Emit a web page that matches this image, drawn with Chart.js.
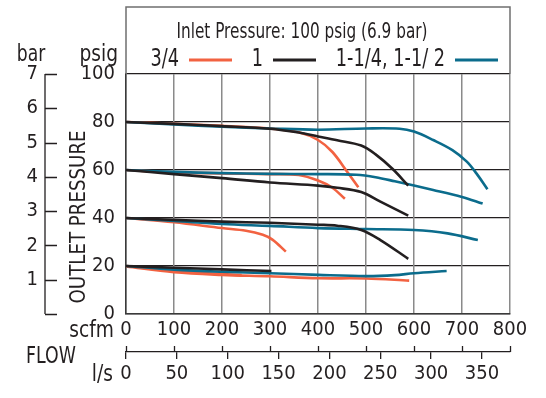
<!DOCTYPE html>
<html>
<head>
<meta charset="utf-8">
<script src="https://cdn.jsdelivr.net/npm/chart.js@4.4.0/dist/chart.umd.min.js"></script>
<style>
  html, body { margin: 0; padding: 0; background: #fff; }
  #wrap { width: 546px; height: 398px; }
</style>
</head>
<body>
<div id="wrap"><canvas id="chart" width="546" height="398"></canvas></div>
<script>
// Regulator flow curves: outlet pressure vs flow at 100 psig inlet
const FONT = "'Liberation Sans Narrow', 'DejaVu Sans Condensed', 'Arial Narrow', sans-serif";
const INK = '#231f20';

const titleText = 'Inlet Pressure: 100 psig (6.9 bar)';
const sizeLabels = ['3/4', '1', '1-1/4, 1-1/ 2'];
const sizeColors = ['#f26241', '#231f20', '#0b6c8c'];

// tick values
const psigTicks = [0, 20, 40, 60, 80, 100];
const barTicks = [0, 1, 2, 3, 4, 5, 6, 7];
const scfmTicks = [0, 100, 200, 300, 400, 500, 600, 700, 800];
const lpsTicks = [0, 50, 100, 150, 200, 250, 300, 350];
const SCFM_TO_LPS = 0.47195;

// [flow scfm, outlet psig]  -- 3/4"
const red80 = [[0, 80], [100, 79.3], [200, 78.4], [300, 77.3], [360, 75.7], [400, 72.5], [430, 67.5], [460, 59.5], [484, 52.8]];
const red60 = [[0, 60], [100, 59], [200, 58.6], [300, 58.3], [360, 57.9], [400, 55.6], [430, 52.6], [456, 48]];
const red40 = [[0, 40], [100, 38.2], [200, 35.8], [250, 34.7], [285, 33], [305, 31], [333, 26]];
const red20a = [[0, 20], [100, 17.8], [200, 16.6], [241, 16.2]];
const red20b = [[0, 19.8], [100, 17.4], [200, 16.3], [300, 15.7], [400, 14.9], [500, 14.8], [590, 13.9]];

// 1"
const black80 = [[0, 80], [100, 79.2], [200, 78.3], [300, 77.2], [360, 75.6], [400, 74], [440, 72.4], [490, 70.2], [520, 66.5], [555, 60.5], [588, 53.5]];
const black60 = [[0, 60], [100, 58.3], [200, 56.6], [300, 54.8], [400, 53.5], [440, 52.6], [490, 50.8], [530, 46.8], [588, 41]];
const black40 = [[0, 40], [100, 39.2], [200, 38.5], [300, 38], [400, 37.2], [440, 36.8], [490, 35], [530, 30.8], [588, 23]];
const black20 = [[0, 20], [100, 19.3], [200, 18.6], [303, 17.9]];

// 1-1/4", 1-1/2"
const blue80 = [[0, 80], [100, 79], [200, 78], [300, 77.3], [400, 76.8], [500, 77.3], [570, 77.2], [600, 76], [640, 72.5], [680, 68.3], [710, 63.5], [730, 58.6], [753, 52]];
const blue60 = [[0, 60], [100, 59.2], [200, 58.7], [300, 58.4], [400, 58.3], [480, 58], [520, 57], [560, 55.3], [640, 51.7], [700, 48.8], [743, 46]];
const blue40 = [[0, 40], [100, 38.8], [200, 37.5], [300, 36.7], [400, 35.8], [500, 35.4], [600, 35], [670, 33.6], [733, 30.8]];
const blue20 = [[0, 20], [100, 18.5], [200, 17.6], [300, 17], [400, 16.3], [500, 15.8], [560, 16.2], [600, 17], [668, 17.9]];

// first listed is drawn on top
const curves = [
  { size: 1, pts: black80 }, { size: 1, pts: black60 }, { size: 1, pts: black40 }, { size: 1, pts: black20 },
  { size: 2, pts: blue80 }, { size: 2, pts: blue60 }, { size: 2, pts: blue40 }, { size: 2, pts: blue20 },
  { size: 0, pts: red80 }, { size: 0, pts: red60 }, { size: 0, pts: red40 }, { size: 0, pts: red20a }, { size: 0, pts: red20b }
];

function fixedTicks(list) {
  return scale => { scale.ticks = list.map(v => ({ value: v })); };
}

// the installed condensed face is wider than the original, squeeze it a bit
function squeezed(ctx, text, x, y, sx, align) {
  ctx.save();
  ctx.translate(x, y);
  ctx.scale(sx, 1);
  ctx.textAlign = align;
  ctx.fillText(text, 0, 0);
  ctx.restore();
}

// labels, legend and the extra axis furniture
const extrasPlugin = {
  id: 'extras',
  afterDraw(chart) {
    const { ctx, chartArea: a, scales } = chart;
    ctx.save();
    ctx.fillStyle = INK;
    ctx.textBaseline = 'middle';

    // frame around the legend block
    ctx.strokeStyle = '#6f6f6f';
    ctx.lineWidth = 1.5;
    ctx.beginPath();
    ctx.moveTo(a.left, a.top);
    ctx.lineTo(a.left, 7);
    ctx.lineTo(a.right, 7);
    ctx.lineTo(a.right, a.top);
    ctx.stroke();

    // legend
    ctx.font = '21px ' + FONT;
    squeezed(ctx, titleText, 302, 33, 0.81, 'center');
    const lineStart = [189, 273, 455];
    ctx.font = '24px ' + FONT;
    ctx.lineWidth = 3;
    sizeLabels.forEach((lbl, i) => {
      squeezed(ctx, lbl, lineStart[i] - 10, 60, 0.82, 'right');
      ctx.strokeStyle = sizeColors[i];
      ctx.beginPath();
      ctx.moveTo(lineStart[i], 60);
      ctx.lineTo(lineStart[i] + 43, 60);
      ctx.stroke();
    });

    // bar bracket
    const bar = scales.bar;
    ctx.strokeStyle = INK;
    ctx.lineWidth = 1.3;
    ctx.beginPath();
    ctx.moveTo(45, bar.getPixelForValue(0));
    ctx.lineTo(45, bar.getPixelForValue(7));
    barTicks.forEach(v => {
      const y = Math.round(bar.getPixelForValue(v)) + 0.5;
      ctx.moveTo(45, y);
      ctx.lineTo(57, y);
    });
    ctx.stroke();

    // scfm marks on the l/s line
    const x2 = scales.x2;
    ctx.beginPath();
    scfmTicks.forEach(v => {
      const x = Math.round(scales.x.getPixelForValue(v)) + 0.5;
      ctx.moveTo(x, x2.top - 6);
      ctx.lineTo(x, x2.top);
    });
    ctx.stroke();

    // axis words
    ctx.font = '23px ' + FONT;
    squeezed(ctx, 'bar', 31, 55, 0.83, 'center');
    squeezed(ctx, 'psig', 118, 55, 0.9, 'right');
    squeezed(ctx, 'scfm', 114, 331, 0.9, 'right');
    squeezed(ctx, 'l/s', 113, 375, 0.9, 'right');
    squeezed(ctx, 'FLOW', 26, 357, 0.84, 'left');

    ctx.translate(79, 217);
    ctx.rotate(-Math.PI / 2);
    ctx.font = '22px ' + FONT;
    squeezed(ctx, 'OUTLET PRESSURE', 0, 0, 0.92, 'center');
    ctx.restore();
  }
};

const tickFont = { family: FONT, size: 20 };

new Chart(document.getElementById('chart'), {
  type: 'line',
  data: {
    datasets: curves.map(c => ({
      label: sizeLabels[c.size],
      data: c.pts.map(p => ({ x: p[0], y: p[1] })),
      xAxisID: 'x',
      yAxisID: 'y',
      borderColor: sizeColors[c.size],
      borderWidth: 2.6,
      pointRadius: 0,
      tension: 0.35,
      fill: false
    }))
  },
  options: {
    responsive: false,
    animation: false,
    layout: { padding: { top: 74, right: 36, left: 0, bottom: 0 } },
    plugins: { legend: { display: false }, tooltip: { enabled: false } },
    scales: {
      bar: {
        type: 'linear', position: 'left', weight: 1, min: 0, max: 7,
        afterBuildTicks: fixedTicks(barTicks),
        afterFit: s => { s.width = 60; },
        grid: { display: false, drawTicks: false }, border: { display: false },
        ticks: { padding: 22, color: INK, font: tickFont, callback: v => (v === 0 ? '' : v) }
      },
      y: {
        type: 'linear', position: 'left', weight: 0, min: 0, max: 100,
        afterBuildTicks: fixedTicks(psigTicks),
        afterFit: s => { s.width = 66; },
        grid: { color: INK, lineWidth: 1.3, drawTicks: false },
        border: { color: '#3a3a3a', width: 1.5 },
        ticks: { padding: 11, color: INK, font: tickFont }
      },
      x: {
        type: 'linear', position: 'bottom', weight: 0, min: 0, max: 800,
        afterBuildTicks: fixedTicks(scfmTicks),
        afterFit: s => { s.height = 38; },
        grid: { color: '#8a8a8a', lineWidth: 1.5, drawTicks: false },
        border: { color: '#3a3a3a', width: 1.5 },
        ticks: { padding: 4, color: INK, font: tickFont, maxRotation: 0 }
      },
      x2: {
        type: 'linear', position: 'bottom', weight: 1, min: 0, max: 800 * SCFM_TO_LPS,
        afterBuildTicks: fixedTicks(lpsTicks),
        afterFit: s => { s.height = 46; },
        grid: { drawOnChartArea: false, drawTicks: true, tickLength: 7, color: INK, lineWidth: 1.3 },
        border: { display: true, color: INK, width: 1.3 },
        ticks: { padding: 3, color: INK, font: tickFont, maxRotation: 0 }
      }
    }
  },
  plugins: [extrasPlugin]
});
</script>
</body>
</html>
